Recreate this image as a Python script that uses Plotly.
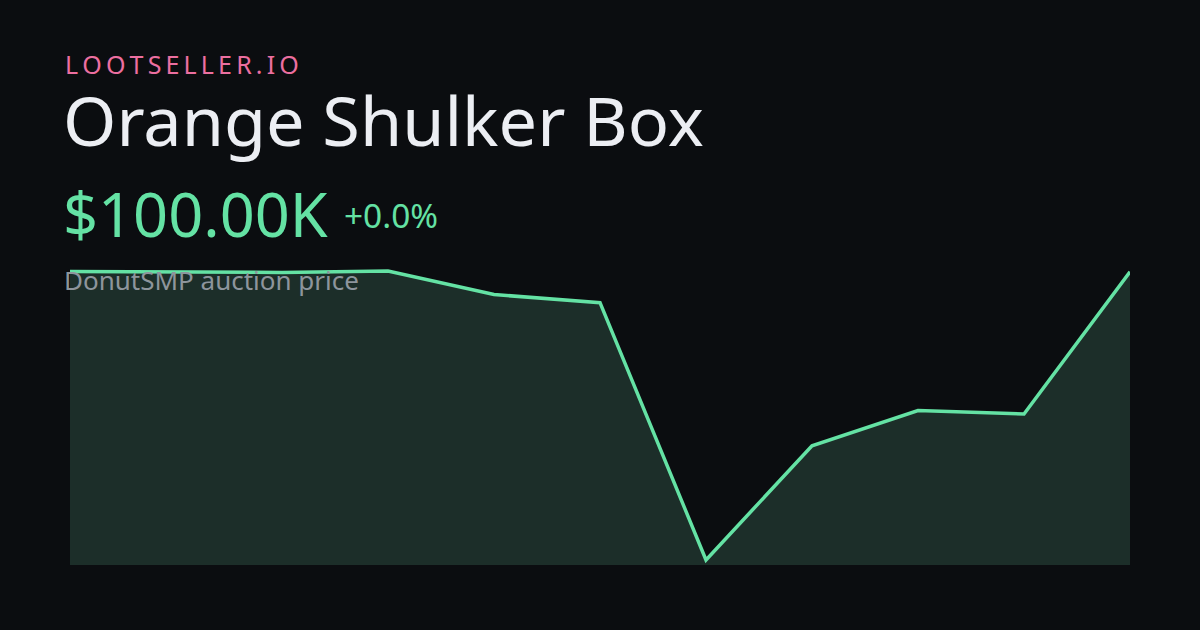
import plotly.graph_objects as go

# Data
points = list(range(11))
prices_k = [100.0, 99.86, 99.83, 100.09, 96.0, 94.6, 50.0, 69.8, 75.9, 75.3, 99.95]

brand = "LOOTSELLER.IO"
title = "Orange Shulker Box"
price_label = "$100.00K"
change_label = "+0.0%"
subtitle = "DonutSMP auction price"

BG = "#0b0d10"
GREEN = "#64e2a4"
FILL = "#1c2e29"

W, H = 1200, 630

def px(x):
    return x / W

def py(y):
    return 1 - y / H

fig = go.Figure()
fig.add_trace(go.Scatter(
    x=points, y=prices_k, mode="lines",
    line=dict(color=GREEN, width=3.5),
    fill="tozeroy", fillcolor=FILL,
    hoverinfo="skip",
))

spaced_brand = "\u2009".join(brand)

ann = [
    dict(text=spaced_brand, x=px(64), y=py(64), size=25, color="#ec6fa0"),
    dict(text=title, x=px(62), y=py(119), size=68.4, color="#eceef3"),
    dict(text=price_label, x=px(62), y=py(213), size=61.3, color=GREEN),
    dict(text=change_label, x=px(343), y=py(215), size=33.4, color=GREEN),
    dict(text=subtitle, x=px(63), y=py(280), size=26, color="#8d959c"),
]

annotations = [
    dict(text=a["text"], x=a["x"], y=a["y"], xref="paper", yref="paper",
         xanchor="left", yanchor="middle", showarrow=False, borderpad=0,
         font=dict(family="Noto Sans", size=a["size"], color=a["color"]))
    for a in ann
]

fig.update_layout(
    width=W, height=H,
    margin=dict(l=0, r=0, t=0, b=0),
    paper_bgcolor=BG, plot_bgcolor=BG,
    showlegend=False,
    annotations=annotations,
    xaxis=dict(domain=[70 / W, 1130 / W], range=[0, 10], visible=False, fixedrange=True),
    yaxis=dict(domain=[65 / H, 1 - 260 / H], range=[49.13, 101.99], visible=False, fixedrange=True),
)

fig.write_html(
    "out.html",
    config={"displayModeBar": False},
    post_script="document.body.style.margin='0';document.body.style.background='#0b0d10';",
)
